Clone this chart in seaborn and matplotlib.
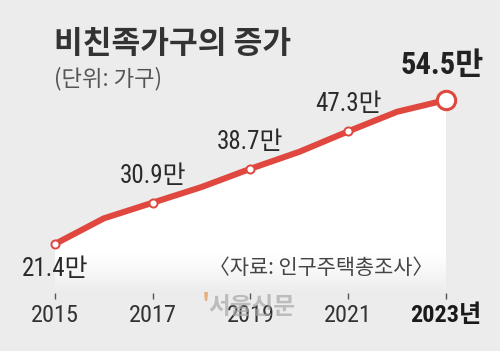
import numpy as np
import pandas as pd
import seaborn as sns
import matplotlib.pyplot as plt

# data (단위: 만 가구)
years = [2015, 2016, 2017, 2018, 2019, 2020, 2021, 2022, 2023]
households = [21.4, 27.3, 30.9, 34.5, 38.7, 42.6, 47.3, 51.8, 54.5]
label_years = [2015, 2017, 2019, 2021, 2023]
tick_labels = ["2015", "2017", "2019", "2021", "2023년"]

df = pd.DataFrame({"year": years, "value": households})
marks = df[df["year"].isin(label_years)]

sns.set_theme(style="white")
plt.rcParams["font.family"] = ["Noto Sans CJK KR", "DejaVu Sans"]
narrow = ["Roboto Condensed", "Archivo Narrow", "Noto Sans CJK KR"]

bg = "#ececec"
red = "#e0473f"

fig = plt.figure(figsize=(5.0, 3.51), dpi=100, facecolor=bg)
ax = fig.add_axes([0, 58 / 351, 1, 1 - 58 / 351])
ax.set_facecolor(bg)
ax.set_xlim(2013.875, 2024.105)
ax.set_ylim(10.14, 77.49)
for s in ax.spines.values():
    s.set_visible(False)

# white gradient under the line
fill = ax.fill_between(df["year"], df["value"], 10.14, color="none", lw=0)
grad_y = np.linspace(10.14, 60, 300)
alpha = np.clip((grad_y - 10.5) / (19 - 10.5), 0, 1) ** 0.8
rgba = np.ones((len(grad_y), 1, 4))
rgba[:, 0, 3] = alpha
img = ax.imshow(rgba, extent=(2015, 2023, 10.14, 60), origin="lower",
                aspect="auto", interpolation="bilinear", zorder=1)
img.set_clip_path(fill.get_paths()[0], ax.transData)

sns.lineplot(data=df, x="year", y="value", color=red, lw=4.4, ax=ax,
             zorder=3, solid_capstyle="round", solid_joinstyle="round")
sns.scatterplot(data=marks[marks["year"] < 2023], x="year", y="value", s=34,
                color="white", edgecolor=red, linewidth=1.4, ax=ax, zorder=4)
sns.scatterplot(data=marks[marks["year"] == 2023], x="year", y="value", s=175,
                color="white", edgecolor=red, linewidth=2.2, ax=ax, zorder=4)

# value labels
for _, r in marks.iterrows():
    txt = f"{r['value']:.1f}만"
    if r["year"] == 2015:
        ax.annotate(txt, (r["year"], r["value"]), xytext=(0, -18), textcoords="offset points",
                    ha="center", va="center", fontsize=18, color="#2a2a2a", family=narrow)
    elif r["year"] == 2023:
        ax.annotate(txt, (r["year"], r["value"]), xytext=(-3, 25), textcoords="offset points",
                    ha="center", va="center", fontsize=22, fontweight="bold",
                    color="#222222", family=narrow)
    else:
        ax.annotate(txt, (r["year"], r["value"]), xytext=(0, 19.5), textcoords="offset points",
                    ha="center", va="center", fontsize=18, color="#2a2a2a", family=narrow)

# axis ticks
ax.set_yticks([])
ax.set_xticks(label_years)
ax.set_xticklabels(tick_labels)
ax.tick_params(axis="x", direction="out", length=4, width=1, color="#555555",
               pad=4, labelsize=17.5, labelcolor="#333333", bottom=True)
for lab in ax.get_xticklabels():
    lab.set_family(narrow)
    if "년" in lab.get_text():
        lab.set_fontweight("bold")
        lab.set_color("#1a1a1a")
ax.set_xlabel("")
ax.set_ylabel("")

# titles and notes
fig.text(54 / 500, 1 - 44 / 351, "비친족가구의 증가", fontsize=22.5, fontweight="bold",
         color="#333333", ha="left", va="center")
fig.text(54 / 500, 1 - 79 / 351, "(단위: 가구)", fontsize=16, color="#555555",
         ha="left", va="center")
fig.text(433 / 500, 1 - 268 / 351, "〈자료: 인구주택총조사〉", fontsize=15,
         color="#444444", ha="right", va="center")
fig.text(202 / 500, 1 - 304 / 351, "'", fontsize=18, fontweight="bold",
         color="#e8a060", alpha=0.8, ha="left", va="center")
fig.text(208 / 500, 1 - 307 / 351, "서울신문", fontsize=17, fontweight="bold",
         color="#a8a8a8", alpha=0.7, ha="left", va="center")

plt.savefig("out.png", dpi=100, facecolor=bg)
